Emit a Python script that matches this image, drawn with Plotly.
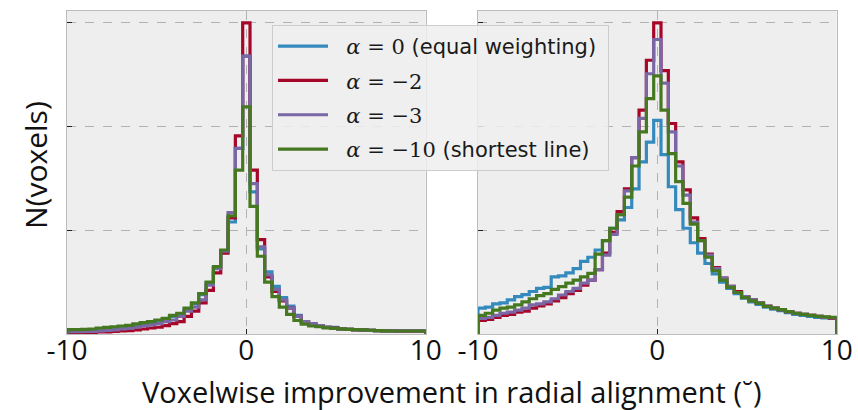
import numpy as np
import plotly.graph_objects as go

# ---------------- data (y in units of the y gridlines) ----------------
n_bins = 49
x_min, x_max = -10, 10

labels = ["α=0 (equal weighting)", "α=−2", "α=−3", "α=−10 (shortest line)"]
colors = ["#348ABD", "#A60628", "#7A68A6", "#467821"]

# Left panel
left_blue = [0.035, 0.035, 0.038, 0.040, 0.050, 0.056, 0.062, 0.068, 0.075, 0.088, 0.10, 0.11, 0.125, 0.14, 0.17, 0.19, 0.24, 0.29, 0.38, 0.49, 0.64, 0.80, 1.08, 1.79, 2.68,
             1.37, 0.82, 0.60, 0.46, 0.35, 0.27, 0.18, 0.12, 0.09, 0.075, 0.065, 0.065, 0.05, 0.045, 0.042, 0.04, 0.036, 0.033, 0.03, 0.029, 0.029, 0.029, 0.029, 0.029]
left_red = [0.013, 0.013, 0.016, 0.016, 0.02, 0.02, 0.025, 0.029, 0.032, 0.039, 0.048, 0.058, 0.065, 0.08, 0.10, 0.12, 0.17, 0.22, 0.30, 0.42, 0.59, 0.78, 1.12, 1.91, 3.00,
            1.58, 0.91, 0.55, 0.41, 0.32, 0.25, 0.17, 0.12, 0.10, 0.08, 0.065, 0.06, 0.05, 0.045, 0.04, 0.037, 0.035, 0.032, 0.03, 0.03, 0.028, 0.028, 0.028, 0.028]
left_purple = [0.022, 0.022, 0.025, 0.025, 0.03, 0.035, 0.039, 0.048, 0.055, 0.065, 0.077, 0.087, 0.10, 0.12, 0.135, 0.17, 0.22, 0.26, 0.33, 0.47, 0.63, 0.80, 1.17, 1.79, 2.68,
               1.45, 0.84, 0.57, 0.43, 0.33, 0.25, 0.17, 0.12, 0.10, 0.08, 0.067, 0.058, 0.05, 0.045, 0.04, 0.036, 0.034, 0.032, 0.03, 0.03, 0.03, 0.03, 0.03, 0.03]
left_green = [0.042, 0.042, 0.045, 0.048, 0.058, 0.064, 0.07, 0.077, 0.084, 0.097, 0.11, 0.12, 0.135, 0.15, 0.18, 0.20, 0.25, 0.30, 0.39, 0.50, 0.65, 0.81, 1.14, 1.58, 2.19,
              1.23, 0.75, 0.50, 0.36, 0.26, 0.19, 0.13, 0.096, 0.077, 0.07, 0.06, 0.055, 0.05, 0.045, 0.042, 0.04, 0.036, 0.033, 0.03, 0.029, 0.029, 0.029, 0.029, 0.029]

# Right panel
right_blue = [0.25, 0.26, 0.29, 0.30, 0.33, 0.36, 0.38, 0.41, 0.44, 0.45, 0.55, 0.56, 0.59, 0.63, 0.70, 0.74, 0.81, 0.90, 1.02, 1.10, 1.22, 1.40, 1.66, 1.85, 2.06,
              1.73, 1.42, 1.20, 1.02, 0.88, 0.78, 0.68, 0.58, 0.50, 0.44, 0.39, 0.345, 0.31, 0.285, 0.26, 0.24, 0.225, 0.205, 0.19, 0.18, 0.17, 0.16, 0.155, 0.15]
right_red = [0.13, 0.14, 0.16, 0.18, 0.19, 0.21, 0.22, 0.25, 0.27, 0.29, 0.32, 0.35, 0.39, 0.42, 0.47, 0.52, 0.62, 0.78, 0.98, 1.18, 1.40, 1.70, 2.16, 2.64, 3.00,
             2.54, 2.03, 1.66, 1.39, 1.12, 0.92, 0.77, 0.64, 0.54, 0.46, 0.41, 0.36, 0.33, 0.30, 0.27, 0.25, 0.235, 0.215, 0.20, 0.19, 0.18, 0.17, 0.16, 0.15]
right_purple = [0.15, 0.16, 0.18, 0.20, 0.21, 0.23, 0.25, 0.28, 0.29, 0.31, 0.34, 0.376, 0.41, 0.44, 0.49, 0.52, 0.62, 0.76, 0.96, 1.15, 1.38, 1.70, 2.08, 2.51, 2.84,
                2.42, 1.95, 1.62, 1.34, 1.08, 0.90, 0.76, 0.63, 0.54, 0.46, 0.40, 0.36, 0.33, 0.30, 0.27, 0.25, 0.235, 0.215, 0.20, 0.19, 0.18, 0.17, 0.16, 0.155]
right_green = [0.18, 0.20, 0.23, 0.25, 0.26, 0.28, 0.31, 0.34, 0.37, 0.39, 0.43, 0.456, 0.49, 0.52, 0.55, 0.585, 0.77, 0.90, 1.02, 1.15, 1.32, 1.62, 1.95, 2.27, 2.49,
               2.16, 1.74, 1.47, 1.26, 1.06, 0.90, 0.74, 0.61, 0.52, 0.45, 0.40, 0.35, 0.32, 0.295, 0.265, 0.25, 0.235, 0.215, 0.20, 0.19, 0.18, 0.17, 0.165, 0.16]

x_ticks = [-10, 0, 10]
x_tick_text = ["-10", "0", "10"]
y_grid = [1, 2, 3]
y_top = 3.115

xlabel = "Voxelwise improvement in radial alignment (˘)"
ylabel = "N(voxels)"

# ---------------- figure ----------------
W, H = 858, 410
edges = np.linspace(x_min, x_max, n_bins + 1)

def step_xy(vals):
    xs = [edges[0]] + list(edges) + [edges[-1]]
    ys = [0] + list(vals) + [vals[-1], 0]
    return xs, ys

fig = go.Figure()

serif = "DejaVu Serif"
def legend_text(lbl):
    math, _, rest = lbl.partition(" ")
    val = math.split("=")[1]
    s = f"<span style='font-family:{serif}'><i>α</i> = {val}</span>"
    if rest:
        s += " " + rest
    return s + "\u00a0"

panels = [
    ("x", "y", [left_blue, left_red, left_purple, left_green], True),
    ("x2", "y2", [right_blue, right_red, right_purple, right_green], False),
]
for xa, ya, series, show in panels:
    for lbl, col, vals in zip(labels, colors, series):
        xs, ys = step_xy(vals)
        fig.add_trace(go.Scatter(
            x=xs, y=ys, mode="lines", line=dict(color=col, width=3.2, shape="hv"),
            xaxis=xa, yaxis=ya, name="\u00a0\u00a0" + legend_text(lbl),
            legendgroup=lbl, showlegend=show, hoverinfo="skip"))

font_main = "Open Sans, sans-serif"
ydom = [(H - 334) / H, (H - 11) / H]
axis_common = dict(
    range=[x_min, x_max], tickvals=x_ticks, ticktext=x_tick_text,
    showgrid=True, gridcolor="#b2b2b2", griddash="dash", gridwidth=0.8,
    zeroline=False, showline=True, linecolor="#bcbcbc", linewidth=1.2, mirror=True,
    ticks="inside", ticklen=5, tickcolor="#222222", tickwidth=1.2,
    tickfont=dict(family=font_main, size=28, color="#111111"),
    ticklabelstandoff=-9, automargin=False,
)
yaxis_common = dict(
    range=[0, y_top], tickvals=y_grid, showticklabels=False,
    showgrid=True, gridcolor="#b2b2b2", griddash="dash", gridwidth=0.8,
    zeroline=False, showline=True, linecolor="#bcbcbc", linewidth=1.2, mirror=True,
    ticks="inside", ticklen=5, tickcolor="#222222", tickwidth=1.2,
    automargin=False,
)

fig.update_layout(
    width=W, height=H, margin=dict(l=0, r=0, t=0, b=0, autoexpand=False),
    paper_bgcolor="white", plot_bgcolor="#eeeeee",
    xaxis=dict(domain=[67 / W, 425.7 / W], anchor="y", **axis_common),
    xaxis2=dict(domain=[478 / W, 836.7 / W], anchor="y2", **axis_common),
    yaxis=dict(domain=ydom, anchor="x", **yaxis_common),
    yaxis2=dict(domain=ydom, anchor="x2", **yaxis_common),
    showlegend=True,
    legend=dict(
        x=272 / W, y=(H - 25) / H, xanchor="left", yanchor="top",
        bgcolor="rgba(238,238,238,0.85)", bordercolor="#cccccc", borderwidth=1,
        font=dict(family="DejaVu Sans", size=21, color="#1a1a1a"),
        tracegroupgap=4, traceorder="grouped", itemwidth=50,
    ),
    annotations=[
        dict(text=xlabel, x=452 / W, y=(H - 391) / H, xref="paper", yref="paper",
             showarrow=False, xanchor="center", yanchor="middle",
             font=dict(family=font_main, size=29, color="#111111")),
        dict(text=ylabel, x=35 / W, y=(H - 165) / H, xref="paper", yref="paper",
             showarrow=False, xanchor="center", yanchor="middle", textangle=-90,
             font=dict(family=font_main, size=30, color="#111111")),
    ],
)

fig.write_html("out.html")
